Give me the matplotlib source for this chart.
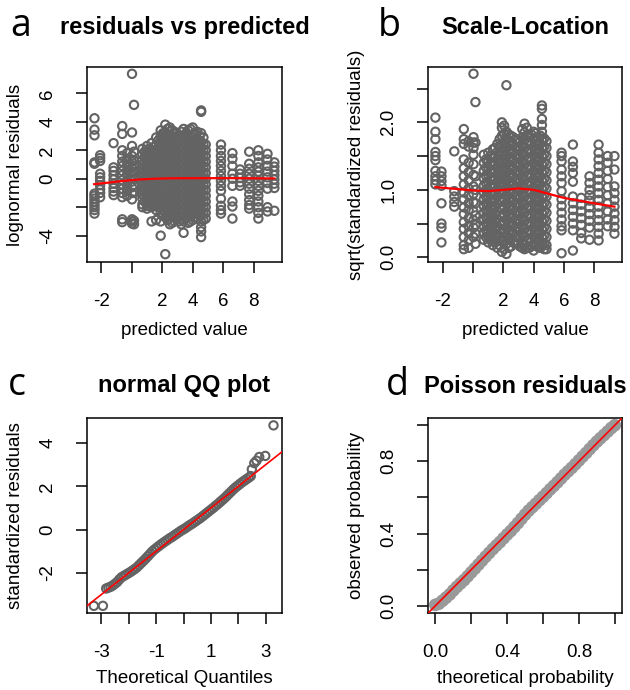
import matplotlib
matplotlib.use("Agg")
import matplotlib.pyplot as plt
import numpy as np

plt.rcParams['font.family'] = ['Liberation Sans', 'DejaVu Sans']

# ---------------- data ----------------
# panel a: residuals vs predicted (columns of points at discrete predicted values)
a_col_x = [-2.44, -2.07, -1.19, -0.62, -0.30, 0.02, 0.15,
           0.70, 1.00, 1.30, 1.60, 1.90, 2.20, 2.50, 2.80, 3.10, 3.40, 3.70, 4.00, 4.30, 4.55, 4.85,
           5.85, 6.60, 7.10, 7.70, 8.30, 8.90, 9.35]
a_col_y = [
    [4.25, 3.45, 3.05, 1.15, 1.05, -1.05, -1.2, -1.4, -1.6, -1.8, -2.0, -2.2, -2.45],
    [1.65, 1.45, 1.25, 0.35, 0.1, -0.15, -0.45, -0.75, -1.0, -1.3],
    [2.5, 0.8, 0.55, 0.25, -0.05, -0.35, -0.65, -0.9, -1.15],
    [3.7, 3.15, 2.0, 1.6, 1.2, 0.9, 0.55, 0.25, -0.1, -0.4, -0.7, -1.0, -1.3, -2.85, -3.05],
    [1.8, 1.4, 1.0, 0.6, 0.3, -0.1, -0.5, -0.85, -1.2],
    [7.37, 3.25, 2.3, 1.6, 1.2, 0.8, 0.45, 0.15, -0.2, -0.6, -1.0, -1.45, -2.85, -3.0, -3.15],
    [5.19, 1.9, 1.3, 0.9, 0.5, 0.0, -0.5, -1.0, -2.95, -3.2],
    [2.1, 1.7, 1.3, 1.0, 0.7, 0.4, 0.1, -0.2, -0.5, -0.8, -1.1, -1.4, -1.8, -2.0],
    [2.3, 1.9, 1.5, 1.2, 0.9, 0.6, 0.3, 0.0, -0.3, -0.6, -0.9, -1.2, -1.5, -1.9, -2.1],
    [2.5, 2.0, 1.6, 1.3, 1.0, 0.7, 0.4, 0.1, -0.2, -0.5, -0.8, -1.1, -1.4, -1.7, -2.0, -3.0],
    [2.9, 2.4, 2.0, 1.6, 1.2, 0.9, 0.5, 0.2, -0.1, -0.4, -0.7, -1.0, -1.4, -1.8, -2.2, -2.9],
    [3.4, 3.0, 2.6, 2.2, 1.8, 1.4, 1.0, 0.6, 0.3, 0.0, -0.4, -0.8, -1.2, -1.6, -2.0, -2.4, -3.0, -4.0],
    [3.8, 3.2, 2.8, 2.4, 2.0, 1.6, 1.2, 0.8, 0.4, 0.0, -0.4, -0.8, -1.2, -1.6, -2.0, -2.4, -2.7, -5.3],
    [3.6, 3.1, 2.7, 2.3, 1.9, 1.5, 1.1, 0.7, 0.3, -0.1, -0.5, -0.9, -1.3, -1.7, -2.1, -2.5, -3.2],
    [3.3, 2.9, 2.5, 2.1, 1.7, 1.3, 0.9, 0.5, 0.1, -0.3, -0.7, -1.1, -1.5, -1.9, -2.3, -2.7, -3.0],
    [3.0, 2.6, 2.2, 1.8, 1.4, 1.0, 0.6, 0.2, -0.2, -0.6, -1.0, -1.4, -1.8, -2.2, -2.6, -3.0],
    [3.5, 3.0, 2.6, 2.2, 1.8, 1.4, 1.0, 0.6, 0.2, -0.2, -0.6, -1.0, -1.4, -1.8, -2.2, -2.6, -3.0, -3.8],
    [3.4, 2.9, 2.5, 2.1, 1.7, 1.3, 0.9, 0.5, 0.1, -0.3, -0.7, -1.1, -1.5, -1.9, -2.3, -2.7, -3.1],
    [3.6, 3.1, 2.7, 2.3, 1.9, 1.5, 1.1, 0.7, 0.3, -0.1, -0.5, -0.9, -1.3, -1.7, -2.1, -2.5, -2.9],
    [3.3, 2.8, 2.4, 2.0, 1.6, 1.2, 0.8, 0.4, 0.0, -0.4, -0.8, -1.2, -1.6, -2.0, -2.4, -2.8],
    [4.8, 4.7, 3.2, 2.6, 2.2, 1.8, 1.4, 1.0, 0.6, 0.2, -0.2, -0.6, -1.0, -1.4, -1.8, -2.2, -2.6, -3.0, -3.4, -3.7, -4.1],
    [2.4, 2.0, 1.6, 1.2, 0.8, 0.4, 0.0, -0.4, -0.8, -1.2, -1.6, -2.0, -2.4, -2.8],
    [2.4, 2.0, 1.6, 1.25, 0.9, 0.55, 0.2, -0.15, -0.5, -0.85, -1.4, -1.9, -2.2, -2.45],
    [1.8, 1.4, 0.9, 0.35, 0.0, -0.5, -1.6, -1.95, -2.8],
    [0.65, 0.35, 0.05, -0.25, -0.5],
    [1.9, 1.05, 0.7, 0.35, 0.0, -0.35, -0.7, -1.1, -1.5, -1.85, -2.1],
    [2.0, 1.6, 1.15, 0.8, 0.5, 0.2, -0.15, -0.5, -0.85, -1.2, -1.6, -2.0, -2.4, -2.8],
    [1.75, 1.35, 0.9, 0.5, 0.1, -0.3, -0.7, -2.0, -2.3],
    [1.15, 0.85, 0.55, 0.25, -0.05, -0.35, -0.65, -2.25],
]
# extra points filling the dense core of panel a (offset columns)
a_core_x = [0.85, 1.15, 1.45, 1.75, 2.05, 2.35, 2.65, 2.95, 3.25, 3.55, 3.85, 4.15, 4.45, 4.70]
a_core_y = [
    [1.9, 1.5, 1.15, 0.85, 0.55, 0.25, -0.05, -0.35, -0.65, -0.95, -1.25, -1.6],
    [2.1, 1.7, 1.35, 1.05, 0.75, 0.45, 0.15, -0.15, -0.45, -0.75, -1.05, -1.35, -1.7],
    [2.2, 1.8, 1.45, 1.1, 0.8, 0.5, 0.2, -0.1, -0.4, -0.7, -1.0, -1.3, -1.6, -1.9],
    [2.7, 2.2, 1.8, 1.4, 1.05, 0.75, 0.4, 0.1, -0.2, -0.55, -0.9, -1.25, -1.6, -2.0],
    [3.2, 2.8, 2.4, 2.0, 1.6, 1.2, 0.8, 0.45, 0.15, -0.2, -0.6, -1.0, -1.4, -1.8, -2.2, -2.6],
    [3.5, 3.0, 2.6, 2.2, 1.8, 1.4, 1.0, 0.6, 0.2, -0.2, -0.6, -1.0, -1.4, -1.8, -2.2, -2.6, -2.9],
    [3.4, 3.0, 2.6, 2.2, 1.8, 1.4, 1.0, 0.6, 0.2, -0.2, -0.6, -1.0, -1.4, -1.8, -2.2, -2.6, -3.1],
    [3.2, 2.8, 2.4, 2.0, 1.6, 1.2, 0.8, 0.4, 0.0, -0.4, -0.8, -1.2, -1.6, -2.0, -2.4, -2.8],
    [3.3, 2.8, 2.4, 2.0, 1.6, 1.2, 0.8, 0.4, 0.0, -0.4, -0.8, -1.2, -1.6, -2.0, -2.4, -2.8, -3.2],
    [3.2, 2.8, 2.4, 2.0, 1.6, 1.2, 0.8, 0.4, 0.0, -0.4, -0.8, -1.2, -1.6, -2.0, -2.4, -2.8],
    [3.5, 3.0, 2.6, 2.2, 1.8, 1.4, 1.0, 0.6, 0.2, -0.2, -0.6, -1.0, -1.4, -1.8, -2.2, -2.6, -3.0],
    [3.2, 2.8, 2.4, 2.0, 1.6, 1.2, 0.8, 0.4, 0.0, -0.4, -0.8, -1.2, -1.6, -2.0, -2.4, -2.7],
    [3.0, 2.6, 2.2, 1.8, 1.4, 1.0, 0.6, 0.2, -0.2, -0.6, -1.0, -1.4, -1.8, -2.2, -2.6],
    [2.9, 2.4, 2.0, 1.6, 1.2, 0.8, 0.4, 0.0, -0.4, -0.8, -1.2, -1.6, -2.0, -2.4, -2.9],
]
a_smooth_x = [-2.46, -1.5, -0.5, 0.5, 1.5, 2.5, 4.0, 6.0, 8.0, 9.35]
a_smooth_y = [-0.38, -0.27, -0.15, -0.05, 0.0, 0.03, 0.04, 0.04, 0.03, 0.02]

# panel b: scale-location
b_col_x = [-2.50, -2.10, -1.25, -0.62, -0.30, 0.02, 0.15,
           0.70, 1.00, 1.30, 1.60, 1.90, 2.20, 2.50, 2.80, 3.10, 3.40, 3.70, 4.00, 4.30, 4.55, 4.85,
           5.85, 6.60, 7.15, 7.70, 8.30, 8.90, 9.35]
b_col_y = [
    [2.07, 1.86, 1.75, 1.56, 1.50, 1.44, 1.28, 1.20, 1.14, 1.08],
    [1.27, 1.20, 1.13, 1.06, 0.80, 0.50, 0.44, 0.22],
    [1.57, 0.98, 0.90, 0.82, 0.75],
    [1.90, 1.75, 1.68, 1.45, 1.32, 1.20, 1.08, 0.96, 0.86, 0.74, 0.64, 0.52, 0.42, 0.30, 0.18, 0.12],
    [1.72, 1.64, 1.40, 1.26, 1.14, 1.02, 0.92, 0.80, 0.70, 0.58, 0.46, 0.36, 0.25, 0.14],
    [2.72, 1.78, 1.70, 1.62, 1.52, 1.38, 1.22, 1.05, 0.94, 0.82, 0.68, 0.55, 0.44, 0.30],
    [2.30, 1.70, 1.20, 1.00, 0.80, 0.62, 0.48, 0.35, 0.20],
    [1.52, 1.40, 1.28, 1.17, 1.06, 0.96, 0.86, 0.76, 0.66, 0.56, 0.46, 0.36, 0.26],
    [1.55, 1.44, 1.33, 1.22, 1.11, 1.00, 0.90, 0.80, 0.70, 0.60, 0.50, 0.40, 0.30, 0.22],
    [1.60, 1.48, 1.37, 1.26, 1.15, 1.04, 0.93, 0.82, 0.71, 0.60, 0.49, 0.38, 0.27, 0.18],
    [1.68, 1.56, 1.45, 1.34, 1.23, 1.12, 1.01, 0.90, 0.79, 0.68, 0.57, 0.46, 0.35, 0.24, 0.14],
    [2.00, 1.92, 1.80, 1.68, 1.56, 1.44, 1.32, 1.20, 1.08, 0.96, 0.84, 0.72, 0.60, 0.48, 0.36, 0.24, 0.08],
    [2.55, 1.86, 1.76, 1.64, 1.52, 1.40, 1.28, 1.16, 1.04, 0.92, 0.80, 0.68, 0.56, 0.44, 0.32, 0.20, 0.05],
    [1.80, 1.70, 1.58, 1.46, 1.34, 1.22, 1.10, 0.98, 0.86, 0.74, 0.62, 0.50, 0.38, 0.26, 0.16],
    [1.75, 1.64, 1.52, 1.40, 1.28, 1.16, 1.04, 0.92, 0.80, 0.68, 0.56, 0.44, 0.32, 0.22],
    [1.72, 1.62, 1.50, 1.38, 1.26, 1.14, 1.02, 0.90, 0.78, 0.66, 0.54, 0.42, 0.30, 0.16],
    [1.98, 1.85, 1.74, 1.62, 1.50, 1.38, 1.26, 1.14, 1.02, 0.90, 0.78, 0.66, 0.54, 0.42, 0.30, 0.18, 0.12],
    [1.80, 1.70, 1.58, 1.46, 1.34, 1.22, 1.10, 0.98, 0.86, 0.74, 0.62, 0.50, 0.38, 0.26, 0.14],
    [1.86, 1.76, 1.64, 1.52, 1.40, 1.28, 1.16, 1.04, 0.92, 0.80, 0.68, 0.56, 0.44, 0.32, 0.20, 0.10],
    [1.78, 1.68, 1.56, 1.44, 1.32, 1.20, 1.08, 0.96, 0.84, 0.72, 0.60, 0.48, 0.36, 0.24, 0.15],
    [2.25, 2.20, 2.05, 1.96, 1.86, 1.74, 1.62, 1.50, 1.38, 1.26, 1.14, 1.02, 0.90, 0.78, 0.66, 0.54, 0.42, 0.30, 0.20],
    [1.72, 1.62, 1.50, 1.38, 1.26, 1.14, 1.02, 0.90, 0.78, 0.66, 0.54, 0.42, 0.30, 0.18, 0.12],
    [1.55, 1.50, 1.42, 1.30, 1.20, 1.10, 0.98, 0.86, 0.76, 0.66, 0.56, 0.46, 0.40, 0.06],
    [1.67, 1.42, 1.34, 1.25, 1.12, 0.90, 0.80, 0.70, 0.60, 0.50, 0.40, 0.10],
    [0.88, 0.78, 0.68, 0.58, 0.48, 0.36, 0.28],
    [1.20, 1.10, 1.00, 0.92, 0.84, 0.74, 0.64, 0.54, 0.44, 0.26],
    [1.67, 1.55, 1.45, 1.35, 1.25, 1.15, 1.05, 0.95, 0.85, 0.75, 0.65, 0.55, 0.45, 0.35, 0.25],
    [1.50, 1.40, 1.28, 1.16, 1.04, 0.92, 0.80, 0.68, 0.56, 0.46],
    [1.50, 1.30, 1.05, 0.95, 0.85, 0.75, 0.65, 0.55, 0.45, 0.35],
]
b_core_x = [0.85, 1.15, 1.45, 1.75, 2.05, 2.35, 2.65, 2.95, 3.25, 3.55, 3.85, 4.15, 4.45, 4.70]
b_core_y = [
    [1.45, 1.33, 1.21, 1.10, 1.00, 0.90, 0.80, 0.70, 0.60, 0.50, 0.40, 0.30],
    [1.50, 1.38, 1.26, 1.15, 1.05, 0.95, 0.85, 0.75, 0.65, 0.55, 0.45, 0.35, 0.26],
    [1.62, 1.50, 1.38, 1.27, 1.16, 1.06, 0.96, 0.86, 0.76, 0.65, 0.54, 0.43, 0.32, 0.22],
    [1.75, 1.62, 1.50, 1.39, 1.28, 1.17, 1.06, 0.95, 0.84, 0.73, 0.62, 0.51, 0.40, 0.29, 0.18],
    [1.95, 1.82, 1.70, 1.58, 1.46, 1.34, 1.22, 1.10, 0.98, 0.86, 0.74, 0.62, 0.50, 0.38, 0.26, 0.12],
    [1.82, 1.70, 1.58, 1.46, 1.34, 1.22, 1.10, 0.98, 0.86, 0.74, 0.62, 0.50, 0.38, 0.26, 0.14],
    [1.78, 1.66, 1.54, 1.42, 1.30, 1.18, 1.06, 0.94, 0.82, 0.70, 0.58, 0.46, 0.34, 0.22],
    [1.74, 1.62, 1.50, 1.38, 1.26, 1.14, 1.02, 0.90, 0.78, 0.66, 0.54, 0.42, 0.30, 0.20],
    [1.90, 1.78, 1.66, 1.54, 1.42, 1.30, 1.18, 1.06, 0.94, 0.82, 0.70, 0.58, 0.46, 0.34, 0.22, 0.14],
    [1.92, 1.80, 1.68, 1.56, 1.44, 1.32, 1.20, 1.08, 0.96, 0.84, 0.72, 0.60, 0.48, 0.36, 0.24, 0.14],
    [1.82, 1.70, 1.58, 1.46, 1.34, 1.22, 1.10, 0.98, 0.86, 0.74, 0.62, 0.50, 0.38, 0.26, 0.16],
    [1.84, 1.72, 1.60, 1.48, 1.36, 1.24, 1.12, 1.00, 0.88, 0.76, 0.64, 0.52, 0.40, 0.28, 0.18],
    [1.80, 1.68, 1.56, 1.44, 1.32, 1.20, 1.08, 0.96, 0.84, 0.72, 0.60, 0.48, 0.36, 0.24, 0.14],
    [1.76, 1.64, 1.52, 1.40, 1.28, 1.16, 1.04, 0.92, 0.80, 0.68, 0.56, 0.44, 0.32, 0.20, 0.12],
]
b_smooth_x = [-2.5, -1.0, 0.0, 1.0, 2.0, 3.0, 4.0, 5.0, 6.0, 7.0, 8.0, 9.35]
b_smooth_y = [1.04, 1.01, 0.99, 0.98, 1.00, 1.02, 1.00, 0.94, 0.88, 0.84, 0.80, 0.75]

# panel c: normal QQ plot
c_theo = [-3.27, -2.94, -2.82, -2.74, -2.66, -2.58, -2.50, -2.42, -2.34, -2.26, -2.18, -2.10, -2.02,
          -1.94, -1.86, -1.78, -1.70, -1.62, -1.54, -1.46, -1.38, -1.30, -1.22, -1.14, -1.06,
          -0.98, -0.90, -0.82, -0.74, -0.66, -0.58, -0.50, -0.42, -0.34, -0.26, -0.18, -0.10,
          -0.02, 0.06, 0.14, 0.22, 0.30, 0.38, 0.46, 0.54, 0.62, 0.70, 0.78, 0.86, 0.94, 1.02,
          1.10, 1.18, 1.26, 1.34, 1.42, 1.50, 1.58, 1.66, 1.74, 1.82, 1.90, 1.98, 2.06, 2.14,
          2.22, 2.30, 2.38, 2.45, 2.49, 2.58, 2.66, 2.76, 2.98, 3.28]
c_sample = [-3.52, -3.52, -2.72, -2.68, -2.64, -2.58, -2.50, -2.42, -2.30, -2.20, -2.14, -2.08, -2.02,
            -1.96, -1.89, -1.82, -1.74, -1.64, -1.54, -1.44, -1.34, -1.23, -1.12, -1.01, -0.92,
            -0.84, -0.76, -0.68, -0.61, -0.54, -0.47, -0.40, -0.34, -0.27, -0.20, -0.13, -0.06,
            0.00, 0.06, 0.13, 0.20, 0.26, 0.33, 0.40, 0.47, 0.54, 0.62, 0.70, 0.78, 0.86, 0.94,
            1.02, 1.11, 1.19, 1.28, 1.37, 1.46, 1.56, 1.66, 1.76, 1.86, 1.95, 2.03, 2.11, 2.19,
            2.26, 2.33, 2.40, 2.47, 2.78, 3.07, 3.18, 3.35, 3.40, 4.81]
c_line_intercept = 0.0
c_line_slope = 1.0

# panel d: Poisson residuals (probability plot)
d_theo = [0.00, 0.02, 0.04, 0.06, 0.08, 0.10, 0.12, 0.14, 0.16, 0.18, 0.20, 0.22, 0.24, 0.26,
          0.28, 0.30, 0.32, 0.34, 0.36, 0.38, 0.40, 0.42, 0.44, 0.46, 0.48, 0.50, 0.52, 0.54,
          0.56, 0.58, 0.60, 0.62, 0.64, 0.66, 0.68, 0.70, 0.72, 0.74, 0.76, 0.78, 0.80, 0.82,
          0.84, 0.86, 0.88, 0.90, 0.92, 0.94, 0.96, 0.98, 1.00]
d_obs = [0.005, 0.012, 0.028, 0.045, 0.063, 0.085, 0.105, 0.124, 0.142, 0.163, 0.185, 0.206,
         0.228, 0.250, 0.272, 0.293, 0.314, 0.334, 0.353, 0.374, 0.395, 0.414, 0.436, 0.458,
         0.482, 0.505, 0.527, 0.546, 0.565, 0.585, 0.604, 0.624, 0.645, 0.664, 0.684, 0.705,
         0.726, 0.745, 0.764, 0.784, 0.805, 0.826, 0.846, 0.868, 0.889, 0.909, 0.928, 0.946,
         0.965, 0.984, 1.000]
d_line_intercept = 0.0
d_line_slope = 1.0

# ---------------- figure ----------------
W, H = 630, 690
fig = plt.figure(figsize=(W / 100, H / 100), dpi=100)


def add_ax(l, t, r, b):
    return fig.add_axes([l / W, 1 - b / H, (r - l) / W, (b - t) / H])


axA = add_ax(87, 67, 282, 262)
axB = add_ax(428, 67, 622, 262)
axC = add_ax(87, 418, 282, 613)
axD = add_ax(428, 418, 622, 613)

PT_GREY = '#636363'
FS = 13.5
MS = 36
MLW = 1.5


def style(ax, xlim, ylim, xticks, xlabels, yticks, ylabels, xlabel, ylabel, title, tpad, xlpad):
    ax.set_xlim(xlim)
    ax.set_ylim(ylim)
    ax.set_xticks(xticks)
    ax.set_xticklabels(xlabels)
    ax.set_yticks(yticks)
    ax.set_yticklabels(ylabels, rotation=90, va='center')
    ax.tick_params(direction='out', length=8, width=1.1, pad=14, labelsize=FS)
    for s in ax.spines.values():
        s.set_linewidth(1.1)
    ax.set_xlabel(xlabel, fontsize=FS, labelpad=xlpad)
    ax.set_ylabel(ylabel, fontsize=FS, labelpad=11)
    ax.set_title(title, fontsize=17, fontweight='bold', pad=tpad)


def flatten(cx, cy):
    xs, ys = [], []
    for x, col in zip(cx, cy):
        xs.extend([x] * len(col))
        ys.extend(col)
    return np.array(xs), np.array(ys)


# a
ax_, ay_ = flatten(a_col_x + a_core_x, a_col_y + a_core_y)
axA.scatter(ax_, ay_, s=MS, facecolors='none', edgecolors=PT_GREY, linewidths=MLW, zorder=2)
axA.plot(a_smooth_x, a_smooth_y, color='red', lw=1.6, zorder=3)
style(axA, (-2.93, 9.85), (-5.85, 7.85), [-2, 0, 2, 4, 6, 8], ['-2', '', '2', '4', '6', '8'],
      [-4, -2, 0, 2, 4, 6], ['-4', '', '0', '2', '4', '6'],
      'predicted value', 'lognormal residuals', 'residuals vs predicted', 24, 9)

# b
bx_, by_ = flatten(b_col_x + b_core_x, b_col_y + b_core_y)
axB.scatter(bx_, by_, s=MS, facecolors='none', edgecolors=PT_GREY, linewidths=MLW, zorder=2)
axB.plot(b_smooth_x, b_smooth_y, color='red', lw=1.6, zorder=3)
style(axB, (-2.99, 9.85), (-0.07, 2.82), [-2, 0, 2, 4, 6, 8], ['-2', '', '2', '4', '6', '8'],
      [0, 0.5, 1.0, 1.5, 2.0, 2.5], ['0.0', '', '1.0', '', '2.0', ''],
      'predicted value', 'sqrt(standardized residuals)', 'Scale-Location', 24, 9)

# c
axC.scatter(c_theo, c_sample, s=MS, facecolors='none', edgecolors=PT_GREY, linewidths=MLW, zorder=2)
axC.axline((0, c_line_intercept), slope=c_line_slope, color='red', lw=1.2, zorder=3)
style(axC, (-3.52, 3.59), (-3.85, 5.15), [-3, -2, -1, 0, 1, 2, 3], ['-3', '', '-1', '', '1', '', '3'],
      [-2, 0, 2, 4], ['-2', '0', '2', '4'],
      'Theoretical Quantiles', 'standardized residuals', 'normal QQ plot', 19, 7)

# d
axD.scatter(d_theo, d_obs, s=85, color='#999999', edgecolors='none', zorder=2)
axD.axline((0, d_line_intercept), slope=d_line_slope, color='red', lw=1.2, zorder=3)
style(axD, (-0.041, 1.04), (-0.04, 1.04), [0, 0.2, 0.4, 0.6, 0.8, 1.0], ['0.0', '', '0.4', '', '0.8', ''],
      [0, 0.2, 0.4, 0.6, 0.8, 1.0], ['0.0', '', '0.4', '', '0.8', ''],
      'theoretical probability', 'observed probability', 'Poisson residuals', 18, 7)

# panel letters
for letter, px, py in [('a', 10, 36), ('b', 378, 36), ('c', 8, 395), ('d', 386, 395)]:
    fig.text(px / W, 1 - py / H, letter, fontsize=27, family=['Open Sans', 'DejaVu Sans'],
             ha='left', va='baseline')

fig.savefig('out.png', dpi=100)
